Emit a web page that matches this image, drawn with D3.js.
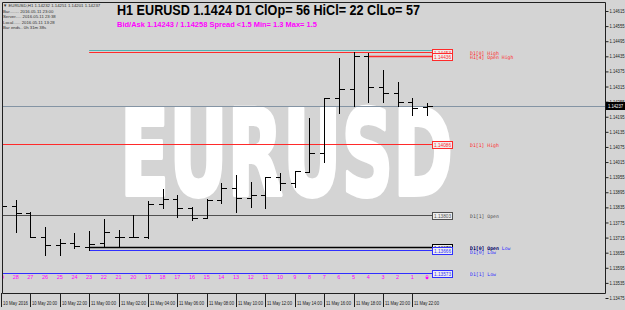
<!DOCTYPE html>
<meta charset="utf-8">
<script src="https://d3js.org/d3.v7.min.js"></script>
<style>
  body { margin: 0; background: #d4d4d4; }
  svg { display: block; }
</style>
<div id="chart"></div>
<script>

// hourly EURUSD bars, 10 May 18:00 -> 11 May 23:00
var barTimes = ["2016-05-10T18:00","2016-05-10T19:00","2016-05-10T20:00","2016-05-10T21:00","2016-05-10T22:00","2016-05-10T23:00",
                "2016-05-11T00:00","2016-05-11T01:00","2016-05-11T02:00","2016-05-11T03:00","2016-05-11T04:00","2016-05-11T05:00",
                "2016-05-11T06:00","2016-05-11T07:00","2016-05-11T08:00","2016-05-11T09:00","2016-05-11T10:00","2016-05-11T11:00",
                "2016-05-11T12:00","2016-05-11T13:00","2016-05-11T14:00","2016-05-11T15:00","2016-05-11T16:00","2016-05-11T17:00",
                "2016-05-11T18:00","2016-05-11T19:00","2016-05-11T20:00","2016-05-11T21:00","2016-05-11T22:00","2016-05-11T23:00"];
var opens  = [1.13829,1.13841,1.13813,1.13718,1.13686,1.13694,1.13678,1.13694,1.13718,1.13718,1.13718,1.13849,1.13869,1.13833,1.13793,
              1.13865,1.13912,1.13873,1.13885,1.13956,1.13932,1.13976,1.14051,1.14270,1.14305,1.14436,1.14313,1.14289,1.14254,1.14232];
var highs  = [1.13865,1.13865,1.13817,1.13757,1.13710,1.13734,1.13742,1.13789,1.13746,1.13805,1.13861,1.13908,1.13885,1.13837,1.13869,
              1.13932,1.13964,1.13936,1.13956,1.13972,1.13980,1.14190,1.14270,1.14428,1.14453,1.14448,1.14381,1.14333,1.14270,1.14251];
var lows   = [1.13809,1.13738,1.13718,1.13646,1.13646,1.13674,1.13666,1.13682,1.13682,1.13718,1.13714,1.13833,1.13797,1.13785,1.13793,
              1.13853,1.13817,1.13837,1.13833,1.13904,1.13916,1.13976,1.14016,1.14210,1.14238,1.14254,1.14254,1.14238,1.14202,1.14201];
var closes = [1.13841,1.13813,1.13718,1.13686,1.13694,1.13682,1.13690,1.13738,1.13718,1.13718,1.13849,1.13869,1.13833,1.13793,1.13865,
              1.13912,1.13873,1.13885,1.13956,1.13932,1.13980,1.14051,1.14270,1.14305,1.14436,1.14313,1.14289,1.14254,1.14230,1.14237];

var lastPrice = 1.14237;

// price axis
var priceTicks = [1.14615,1.14555,1.14495,1.14435,1.14375,1.14315,1.14255,1.14195,1.14135,1.14075,
                  1.14015,1.13955,1.13895,1.13835,1.13775,1.13715,1.13655,1.13595,1.13535,1.13475];

// time axis
var timeTicks  = ["2016-05-10T18:00","2016-05-10T20:00","2016-05-10T22:00","2016-05-11T00:00","2016-05-11T02:00","2016-05-11T04:00",
                  "2016-05-11T06:00","2016-05-11T08:00","2016-05-11T10:00","2016-05-11T12:00","2016-05-11T14:00","2016-05-11T16:00",
                  "2016-05-11T18:00","2016-05-11T20:00","2016-05-11T22:00"];
var timeLabels = ["10 May 2016","10 May 20:00","10 May 22:00","11 May 00:00","11 May 02:00","11 May 04:00","11 May 06:00",
                  "11 May 08:00","11 May 10:00","11 May 12:00","11 May 14:00","11 May 16:00","11 May 18:00","11 May 20:00","11 May 22:00"];

// level lines (start time null = label only)
var levelNames  = ["D1[0] High","H1[4] Open High","D1[1] High","D1[1] Open","D1[0] Open Low","D1[0] Open","D1[0] Low","D1[1] Low"];
var levelPrices = [1.14453,1.14436,1.14086,1.13803,1.13678,1.13678,1.13666,1.13573];
var levelBoxes  = ["1.14453","1.14436","1.14086","1.13803",null,"1.13678","1.13666","1.13573"];
var levelStarts = ["2016-05-11T00:00","2016-05-11T19:00","2016-05-10T17:00","2016-05-10T17:00",null,"2016-05-11T00:00","2016-05-11T00:00","2016-05-10T17:00"];
var dayHighLine = 1.14459;   // the teal one above the day high

var infoLines = ["\u25BC EURUSD,H1  1.14232 1.14251 1.14201 1.14237",
                 "Bar........ 2016.05.11 23:00",
                 "Server..... 2016.05.11 23:38",
                 "Local...... 2016.05.11 13:28",
                 "Bar ends.. 0h 31m 38s"];

var parse = d3.timeParse("%Y-%m-%dT%H:%M");

var W = 625, H = 310;
var frame = {left: 2, right: 605, top: 2, bottom: 293};
var small = "'Liberation Sans', Arial, sans-serif";

var x = d3.scaleTime()
  .domain([parse(barTimes[0]), parse(barTimes[barTimes.length - 1])])
  .range([1, 427]);
var y = d3.scaleLinear().domain([1.13475, 1.14615]).range([298, 11]);

var svg = d3.select("#chart").append("svg").attr("width", W).attr("height", H);
svg.append("rect").attr("width", W).attr("height", H).attr("fill", "#d4d4d4");

svg.append("clipPath").attr("id", "plot")
  .append("rect")
    .attr("x", frame.left).attr("y", frame.top)
    .attr("width", frame.right - frame.left).attr("height", frame.bottom - frame.top);

var plot = svg.append("g").attr("clip-path", "url(#plot)");

// big watermark (stroked a bit to get the heavy look)
plot.append("text")
  .attr("x", 120).attr("y", 195)
  .attr("textLength", 333).attr("lengthAdjust", "spacingAndGlyphs")
  .style("font-family", "'DejaVu Sans', sans-serif")
  .style("font-weight", "bold")
  .style("font-size", "119px")
  .style("fill", "#ffffff")
  .style("stroke", "#ffffff")
  .style("stroke-width", 4)
  .style("stroke-linejoin", "round")
  .text("EURUSD");

function levelColor(name) {
  if (name.indexOf("High") >= 0) return "#ff2a2a";
  if (name.indexOf("Low") >= 0) return "#2f2fff";
  if (name == "D1[1] Open") return "#505050";
  return "#000000";
}

var snap = function(v) { return Math.round(v) + 0.5; };

// teal line
plot.append("line")
  .attr("x1", x(parse("2016-05-11T00:00"))).attr("x2", 432)
  .attr("y1", snap(y(dayHighLine))).attr("y2", snap(y(dayHighLine)))
  .style("stroke", "#4fb0b0");

// current price line
plot.append("line")
  .attr("x1", frame.left).attr("x2", frame.right)
  .attr("y1", snap(y(lastPrice))).attr("y2", snap(y(lastPrice)))
  .style("stroke", "#8494a4");

// level lines
levelNames.forEach(function(name, i) {
  if (!levelStarts[i]) return;
  var yy = snap(y(levelPrices[i]));
  plot.append("line")
    .attr("x1", x(parse(levelStarts[i]))).attr("x2", 432)
    .attr("y1", yy).attr("y2", yy)
    .style("stroke", levelColor(name))
    .style("stroke-width", name == "H1[4] Open High" || name == "D1[0] Open" ? 1.5 : 1);
});

// OHLC bars
var bars = barTimes.map(function(t, i) {
  return {t: parse(t), o: opens[i], h: highs[i], l: lows[i], c: closes[i], n: barTimes.length - 1 - i};
});

var barG = plot.append("g").style("shape-rendering", "crispEdges");
bars.forEach(function(d) {
  var bx = Math.round(x(d.t)) + 0.5;
  barG.append("line")
    .attr("x1", bx).attr("x2", bx).attr("y1", Math.round(y(d.h))).attr("y2", Math.round(y(d.l)) + 1)
    .style("stroke", "#000").style("stroke-width", 1.4);
  barG.append("line")
    .attr("x1", bx - 5).attr("x2", bx).attr("y1", snap(y(d.o))).attr("y2", snap(y(d.o)))
    .style("stroke", "#000");
  barG.append("line")
    .attr("x1", bx).attr("x2", bx + 5).attr("y1", snap(y(d.c))).attr("y2", snap(y(d.c)))
    .style("stroke", "#000");
});

// bar numbers along the D1[1] low line
plot.selectAll(".barnum")
  .data(bars)
  .enter()
  .append("text")
    .attr("x", function(d) { return x(d.t); })
    .attr("y", 279)
    .style("text-anchor", "middle")
    .style("font-family", small)
    .style("font-size", "5.5px")
    .style("fill", "#ff00ff")
    .text(function(d) { return d.n; });

plot.append("circle")
  .attr("cx", x(parse(barTimes[barTimes.length - 1]))).attr("cy", 278).attr("r", 1.3)
  .style("fill", "#ff00ff");

// price boxes and level labels
levelNames.forEach(function(name, i) {
  var yy = y(levelPrices[i]);
  var col = levelColor(name);
  if (levelBoxes[i]) {
    svg.append("rect")
      .attr("x", 432.5).attr("y", Math.round(yy) - 3 + 0.5)
      .attr("width", 20).attr("height", 7)
      .style("fill", "#eeeeee").style("stroke", col);
    svg.append("text")
      .attr("x", 434).attr("y", Math.round(yy) + 2.5)
      .attr("textLength", 17).attr("lengthAdjust", "spacingAndGlyphs")
      .style("font-family", small)
      .style("font-size", "4.6px")
      .style("fill", col)
      .text(levelBoxes[i]);
  }
  var ly = name == "D1[0] Low" ? yy + 3 : yy + 1.5;
  svg.append("text")
    .attr("x", 470).attr("y", ly)
    .attr("dominant-baseline", "middle")
    .style("font-family", "'DejaVu Sans Mono', monospace")
    .style("font-size", "4.8px")
    .style("fill", col)
    .text(name);
});

// frame
svg.append("path")
  .attr("d", "M" + (frame.left + 0.5) + "," + (frame.top + 0.5) + "H" + (frame.right + 0.5) +
             "V" + (frame.bottom + 0.5) + "H" + (frame.left + 0.5) + "Z")
  .style("fill", "none").style("stroke", "#202020");

// price axis
var yAxis = svg.append("g")
  .attr("transform", "translate(" + (frame.right + 0.5) + ",0)")
  .call(d3.axisRight(y).tickValues(priceTicks).tickSize(3).tickPadding(1).tickFormat(d3.format(".5f")));
yAxis.select(".domain").remove();
yAxis.selectAll("line").style("stroke", "#202020");
yAxis.selectAll("text")
  .attr("textLength", 15).attr("lengthAdjust", "spacingAndGlyphs")
  .style("font-family", small)
  .style("font-size", "4.8px")
  .style("fill", "#202020");

// last price marker on the axis
svg.append("rect")
  .attr("x", 606).attr("y", Math.round(y(lastPrice)) - 4)
  .attr("width", 19).attr("height", 8)
  .style("fill", "#000");
svg.append("text")
  .attr("x", 608).attr("y", Math.round(y(lastPrice)) + 2)
  .attr("textLength", 15).attr("lengthAdjust", "spacingAndGlyphs")
  .style("font-family", small)
  .style("font-size", "4.8px")
  .style("fill", "#fff")
  .text(d3.format(".5f")(lastPrice));

// time axis
timeTicks.forEach(function(t, i) {
  var tx = Math.round(x(parse(t))) + 0.5;
  svg.append("line")
    .attr("x1", tx).attr("x2", tx).attr("y1", frame.bottom).attr("y2", 307)
    .style("stroke", "#202020");
  svg.append("text")
    .attr("x", tx + 1.5).attr("y", 305)
    .attr("textLength", 25).attr("lengthAdjust", "spacingAndGlyphs")
    .style("font-family", small)
    .style("font-size", "4.8px")
    .style("fill", "#202020")
    .text(timeLabels[i]);
});

// top-left info
svg.selectAll(".info")
  .data(infoLines)
  .enter()
  .append("text")
    .attr("x", 3)
    .attr("y", function(d, i) { return 7 + i * 5.6; })
    .style("font-family", small)
    .style("font-size", "4.3px")
    .style("fill", "#303030")
    .text(function(d) { return d; });

// headline texts
svg.append("text")
  .attr("x", 117).attr("y", 14.5)
  .attr("textLength", 303).attr("lengthAdjust", "spacingAndGlyphs")
  .style("font-family", small)
  .style("font-weight", "bold")
  .style("font-size", "14px")
  .style("fill", "#000")
  .text("H1 EURUSD 1.1424 D1 ClOp= 56 HiCl= 22 ClLo= 57");

svg.append("text")
  .attr("x", 117).attr("y", 26.5)
  .attr("textLength", 200).attr("lengthAdjust", "spacingAndGlyphs")
  .style("font-family", small)
  .style("font-weight", "bold")
  .style("font-size", "7.5px")
  .style("fill", "#ff00ff")
  .text("Bid/Ask 1.14243 / 1.14258  Spread  <1.5  Min= 1.3  Max= 1.5");

</script>
